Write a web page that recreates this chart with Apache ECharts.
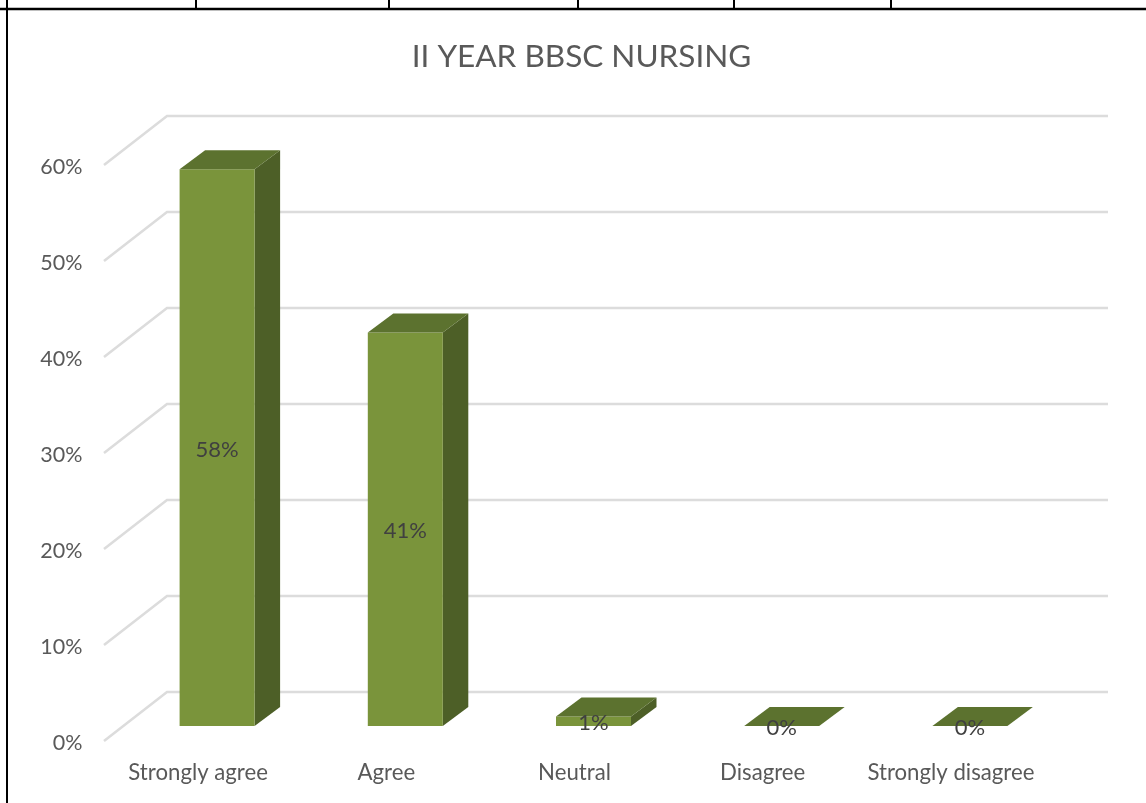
<!DOCTYPE html>
<html><head><meta charset="utf-8">
<style>html,body{margin:0;padding:0;background:#fff}#c{width:1146px;height:803px}</style>
<script src="https://cdn.jsdelivr.net/npm/echarts@6/dist/echarts.min.js"></script>
</head><body><div id="c"></div>
<script>
var chartTitle = 'II YEAR BBSC NURSING';
var categories = ['Strongly agree', 'Agree', 'Neutral', 'Disagree', 'Strongly disagree'];
var values = [0.58, 0.41, 0.01, 0, 0];
var valueLabels = ['58%', '41%', '1%', '0%', '0%'];
var ticks = [0, 0.1, 0.2, 0.3, 0.4, 0.5, 0.6];
var tableStubs = [196, 389, 578, 734, 891];

var FONT = 'Lato';
var DEPTH_X = 63, DEPTH_Y = -49;
var BAR_W = 75, BAR_DX = 25.5, BAR_DY = -19;
var BAR_OFF_Y = -15;

var chart = echarts.init(document.getElementById('c'), null, {renderer: 'canvas'});

function renderWall(params, api) {
  var v = api.value(0);
  var p = api.coord([0, v]);
  var cs = params.coordSys;
  var x0 = cs.x, y0 = p[1];
  return {type: 'polyline', shape: {points: [[x0, y0], [x0 + DEPTH_X, y0 + DEPTH_Y], [cs.x + cs.width + DEPTH_X, y0 + DEPTH_Y]]}, style: {stroke: '#dcdcdc', lineWidth: 2.5, fill: null}, silent: true};
}

function renderBar(params, api) {
  var idx = api.value(0), v = api.value(1);
  var base = api.coord([idx, 0]), top = api.coord([idx, v]);
  var xl = base[0] + 19 - BAR_W / 2, xr = xl + BAR_W;
  var yb = base[1] + BAR_OFF_Y, yt = top[1] + BAR_OFF_Y;
  var children = [];
  if (v > 0) {
    children.push({type: 'polygon', shape: {points: [[xr, yb], [xr + BAR_DX, yb + BAR_DY], [xr + BAR_DX, yt + BAR_DY], [xr, yt]]}, style: {fill: '#4d5f27'}});
    children.push({type: 'rect', shape: {x: xl, y: yt, width: BAR_W, height: yb - yt}, style: {fill: '#7a943b'}});
  }
  children.push({type: 'polygon', shape: {points: [[xl, yt], [xl + BAR_DX, yt + BAR_DY], [xr + BAR_DX, yt + BAR_DY], [xr, yt]]}, style: {fill: '#5c722f'}});
  children.push({type: 'text', style: {text: valueLabels[idx], x: (xl + xr) / 2, y: (yb + yt) / 2 + 2, align: 'center', verticalAlign: 'middle', fontFamily: FONT, fontSize: 22, fill: '#404040'}});
  return {type: 'group', children: children};
}

var graphics = [
  {type: 'line', shape: {x1: 0, y1: 9, x2: 1146, y2: 9}, style: {stroke: '#000', lineWidth: 2.5}},
  {type: 'line', shape: {x1: 7, y1: 0, x2: 7, y2: 803}, style: {stroke: '#000', lineWidth: 2}}
];
tableStubs.forEach(function (x) {
  graphics.push({type: 'line', shape: {x1: x, y1: 0, x2: x, y2: 9}, style: {stroke: '#000', lineWidth: 2}});
});

chart.setOption({
  animation: false,
  backgroundColor: '#fff',
  title: {text: chartTitle, left: 576.5, top: 36, textAlign: 'center', textStyle: {fontFamily: FONT, fontSize: 31.5, fontWeight: 'normal', color: '#595959'}},
  grid: {left: 104, top: 165, width: 941, height: 576, containLabel: false},
  xAxis: {type: 'category', data: categories, axisLine: {show: false}, axisTick: {show: false}, axisLabel: {interval: 0, fontFamily: FONT, fontSize: 22.2, color: '#595959', margin: 21}},
  yAxis: {type: 'value', min: 0, max: 0.6, interval: 0.1, axisLine: {show: false}, axisTick: {show: false}, splitLine: {show: false},
    axisLabel: {fontFamily: FONT, fontSize: 21.5, color: '#595959', margin: 21.5, verticalAlign: 'top', lineHeight: 4, formatter: function (v) { return Math.round(v * 100) + '%'; }}},
  graphic: graphics,
  series: [
    {type: 'custom', coordinateSystem: 'cartesian2d', renderItem: renderWall, encode: {y: 0}, data: ticks.map(function (t) { return [t]; }), silent: true, z: 1},
    {type: 'custom', coordinateSystem: 'cartesian2d', renderItem: renderBar, encode: {x: 0, y: 1}, data: values.map(function (v, i) { return [i, v]; }), silent: true, z: 2}
  ]
});
</script></body></html>
